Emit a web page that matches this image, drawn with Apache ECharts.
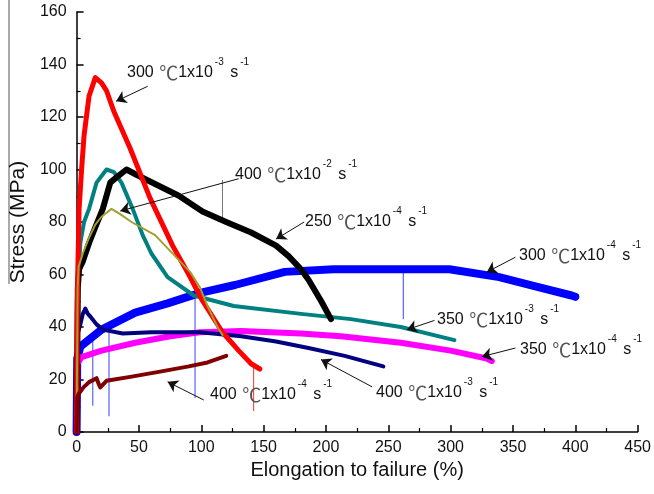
<!DOCTYPE html>
<html>
<head>
<meta charset="utf-8">
<script src="https://cdn.jsdelivr.net/npm/echarts@6/dist/echarts.min.js"></script>
<style>html,body{margin:0;padding:0;background:#fff}#c{width:654px;height:494px}</style>
</head>
<body>
<div id="c"></div>
<script>
// ---- axis settings ----
const xMin = 0, xMax = 450, xStep = 50;
const yMin = 0, yMax = 160, yStep = 20;
const xName = 'Elongation to failure (%)';
const yName = 'Stress (MPa)';

// ---- series values [elongation %, stress MPa] ----
const red300_1e3 = [[0,0],[0.5,45],[1,62],[2,85],[4,100],[6,113],[10,128],[15,135],[20,133],[24,130],[30,122],[43,108],[59,89],[77,71],[90,60],[101,50],[117,38],[130,31],[140,26],[147,24]];
const teal350_1e3 = [[0,0],[1,55],[3,72],[6,80],[10,85],[16,95],[24,100],[30,99],[36,95],[45,85],[53,75],[60,68],[73,59],[94,52],[126,48],[180,45],[220,43],[260,40],[303,35]];
const black250_1e4 = [[0,0],[1,55],[2,62],[5,65],[10,72],[15,78],[21,85],[27,95],[32,97],[40,100],[48,98],[65,94],[82,90],[101,84],[120,80],[140,76],[160,71],[170,67],[180,62],[186,58],[196,50],[204,43]];
const olive400_1e2 = [[0,0],[0.8,55],[1.6,63],[5,68],[9.5,73.5],[15,79],[20,82],[28,85],[35,83],[44,80],[63,75],[79,67],[91,61],[99,55],[105,48],[113,40],[117,37]];
const blue300_1e4 = [[0,0],[0.5,28],[3,32.5],[20,39],[47,45.5],[73,49],[99,53],[127,56],[167,61],[206,62],[260,62],[299,62],[339,59],[368,55.5],[397,52],[400,51.5]];
const magenta350_1e4 = [[0,0],[0.5,26],[4,28.5],[20,31],[47,34],[75,36.5],[99,38],[132,38.5],[180,37.5],[212,36.5],[260,34],[300,31],[329,28],[333,27]];
const navy400_1e3 = [[0,0],[0.5,37],[3,41],[5,45],[7,47],[9,45],[11,44],[16,41],[21,39],[37,37.5],[60,38],[99,38],[132,36.5],[160,34.5],[186,32],[215,29],[246,25]];
const darkred400_1e4 = [[0,0],[0.5,13],[1.6,14.5],[5.5,17],[10,19],[16,20.5],[18,18],[19,17],[24,19.5],[43,21],[67,23],[90,25],[105,26.5],[120,29]];

// thin spikes [x, from, to]
const blueSpikes = [[1.5,31,20],[13,37,10],[26,40,6],[95,51,13],[262,62,43]];
const redSpikes = [[142,25,8]];
const graySpikes = [[117,80,96]];

// annotation texts
const labelTemps = ['300 ', '400 ', '250 ', '300 ', '350 ', '350 ', '400 ', '400 '];
const labelExps = ['-3', '-2', '-4', '-4', '-3', '-4', '-3', '-4'];
// arrows in data coords: [fromX, fromY, toX, toY]
const arrows = [[57,131.7,31.7,126],[130,96.5,35,84.2],[182.5,80,160,73.5],[352,66.6,329,60.9],[287,42.5,265,39],[352,32,325,28.7],[237,17.2,196,27.6],[102,12.2,73,19.1]];
// label placement (pixels): [left, vertical centre of main text]
const labelPos = [[127,73],[235,175],[305,222],[519,256],[437,320],[520,350],[376,393],[210,395]];

function spikeData(arr){
  const out = [];
  arr.forEach(s => { out.push([s[0], s[1]]); out.push([s[0], s[2]]); out.push([s[0], '-']); });
  return out;
}

const FONT = 'Arial, "Liberation Sans", sans-serif';
const CJK = '"Noto Sans CJK SC", "Noto Sans CJK JP", sans-serif';

function lineSeries(name, data, color, width){
  return {
    name, type: 'line', data, showSymbol: false, symbol: 'none',
    smooth: false,
    lineStyle: { color, width, join: 'round', cap: 'round' }, z: 2
  };
}

const series = [
  lineSeries('blue', blue300_1e4, '#0000ff', 8),
  lineSeries('magenta', magenta350_1e4, '#ff00ff', 6),
  lineSeries('navy', navy400_1e3, '#000080', 4),
  lineSeries('teal', teal350_1e3, '#008080', 4),
  lineSeries('black', black250_1e4, '#000000', 6),
  lineSeries('red', red300_1e3, '#ff0000', 5),
  lineSeries('olive', olive400_1e2, '#a0a030', 2),
  lineSeries('darkred', darkred400_1e4, '#800000', 4),
  { type:'line', data: spikeData(blueSpikes), showSymbol:false, symbol:'none', lineStyle:{color:'#3344ff', width:1}, z:1 },
  { type:'line', data: spikeData(redSpikes), showSymbol:false, symbol:'none', lineStyle:{color:'#ff3030', width:1}, z:1 },
  { type:'line', data: spikeData(graySpikes), showSymbol:false, symbol:'none', lineStyle:{color:'#777', width:1}, z:1 },
  { type:'line', data: [], z: 5,
    markLine: {
      silent: true, animation: false,
      symbol: ['none', 'arrow'], symbolSize: 10,
      label: { show: false },
      lineStyle: { color: '#111', width: 1, type: 'solid' },
      emphasis: { disabled: true },
      data: arrows.map(a => [{ coord: [a[0], a[1]] }, { coord: [a[2], a[3]] }])
    }
  }
];

// measure text widths to lay out labels piece by piece
const mctx = document.createElement('canvas').getContext('2d');
function tw(text, size, fam){ mctx.font = size + 'px ' + fam; return mctx.measureText(text).width; }

const graphics = [];
labelTemps.forEach((t, i) => {
  let x = labelPos[i][0];
  const cy = labelPos[i][1];
  const pieces = [
    { text: t, size: 16, fam: FONT, dy: 0, pad: 0 },
    { text: '℃', size: 19, fam: CJK, dy: 0, pad: 1 },
    { text: '1x10', size: 16, fam: FONT, dy: 0, pad: 0 },
    { text: labelExps[i], size: 10, fam: FONT, dy: -11, pad: 2 },
    { text: ' s', size: 16, fam: FONT, dy: 0, pad: 2 },
    { text: '-1', size: 10, fam: FONT, dy: -11, pad: 2 }
  ];
  pieces.forEach(p => {
    x += p.pad;
    graphics.push({
      type: 'text', x: x, y: cy + p.dy, z: 10,
      style: { text: p.text, font: p.size + 'px ' + p.fam, fill: p.fam === CJK ? '#555' : '#111', verticalAlign: 'middle', align: 'left' }
    });
    x += tw(p.text, p.size, p.fam);
  });
});
graphics.push({ type: 'line', shape: { x1: 9, y1: 0, x2: 9, y2: 284 }, style: { stroke: '#555', lineWidth: 1 } });

const axisCommon = {
  axisLine: { show: true, lineStyle: { color: '#000', width: 1.5 } },
  axisTick: { show: true, inside: true, length: 7, lineStyle: { color: '#000', width: 1.5 } },
  minorTick: { show: true, splitNumber: 2, length: 4, lineStyle: { color: '#000', width: 1.2 } },
  splitLine: { show: false },
  axisLabel: { color: '#111', fontSize: 16, fontFamily: FONT },
  nameTextStyle: { color: '#111', fontSize: 20, fontFamily: FONT }
};

const chart = echarts.init(document.getElementById('c'), null, { renderer: 'canvas' });
chart.setOption({
  animation: false,
  backgroundColor: '#fff',
  grid: { left: 73, right: 14, top: 12, bottom: 62, containLabel: false },
  xAxis: Object.assign({}, axisCommon, {
    type: 'value', min: xMin, max: xMax, interval: xStep,
    name: xName, nameLocation: 'middle', nameGap: 25,
    axisLabel: Object.assign({}, axisCommon.axisLabel, { margin: 8 })
  }),
  yAxis: Object.assign({}, axisCommon, {
    type: 'value', min: yMin, max: yMax, interval: yStep,
    name: yName, nameLocation: 'middle', nameGap: 45,
    nameTextStyle: Object.assign({}, axisCommon.nameTextStyle, { fontSize: 21 }),
    axisLabel: Object.assign({}, axisCommon.axisLabel, { margin: 10 })
  }),
  series,
  graphic: graphics
});
</script>
</body>
</html>
